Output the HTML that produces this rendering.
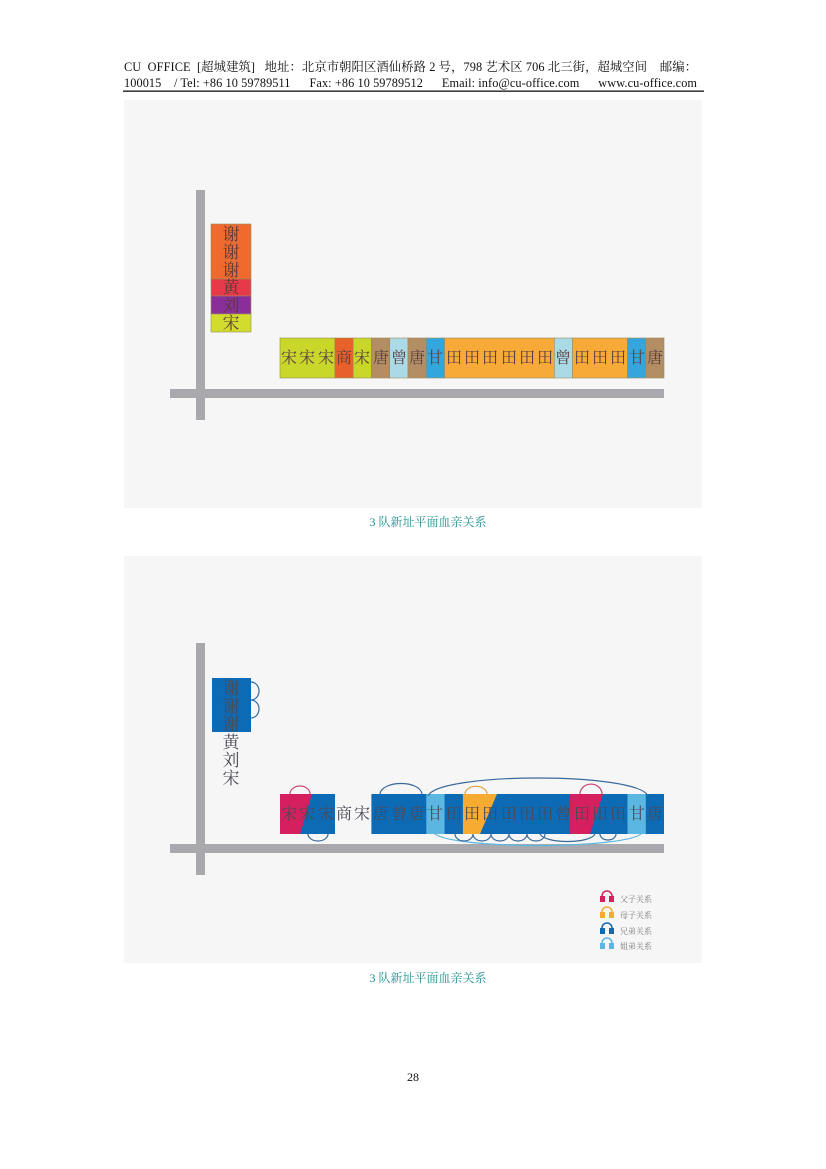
<!DOCTYPE html>
<html><head><meta charset="utf-8"><style>
body{margin:0;background:#fff;width:826px;height:1169px;overflow:hidden}
svg{display:block}
</style></head><body>
<svg width="826" height="1169" xmlns="http://www.w3.org/2000/svg" font-family="Liberation Serif, Noto Serif CJK SC, serif">
<text x="124" y="71" font-size="12.3" fill="#111" style="white-space:pre" textLength="573" lengthAdjust="spacing">CU  OFFICE  [超城建筑]   地址：北京市朝阳区酒仙桥路 2 号，798 艺术区 706 北三街，超城空间    邮编：</text>
<text x="124" y="87" font-size="12.3" fill="#111" style="white-space:pre" textLength="573" lengthAdjust="spacing">100015    / Tel: +86 10 59789511      Fax: +86 10 59789512      Email: info@cu-office.com      www.cu-office.com</text>
<rect x="123" y="90.5" width="581" height="1.3" fill="#111"/>

<!-- panel 1 -->
<rect x="124" y="100" width="578" height="408" fill="#f6f6f6"/>
<rect x="196" y="190" width="9" height="230" fill="#a9a9ad"/>
<rect x="170" y="389" width="494" height="9" fill="#a9a9ad"/>
<g stroke="#9a8a5a" stroke-width="0.6">
<rect x="211" y="224" width="40" height="55" fill="#ef6a2c"/>
<rect x="211" y="279" width="40" height="17" fill="#e63a4a"/>
<rect x="211" y="296" width="40" height="18" fill="#8a2f9a"/>
<rect x="211" y="314" width="40" height="18" fill="#d2dc2c"/>
</g>
<g font-size="17" fill="#5a3a3a" text-anchor="middle">
<text x="231" y="240">谢</text><text x="231" y="258">谢</text><text x="231" y="276">谢</text>
<text x="231" y="293">黄</text><text x="231" y="311">刘</text><text x="231" y="329">宋</text>
</g>
<g stroke="#9a8a5a" stroke-width="0.6">
<rect x="280" y="338" width="54.9" height="40" fill="#c9d62a"/>
<rect x="334.9" y="338" width="18.3" height="40" fill="#e8612a"/>
<rect x="353.2" y="338" width="18.2" height="40" fill="#c9d62a"/>
<rect x="371.4" y="338" width="18.3" height="40" fill="#b38d63"/>
<rect x="389.7" y="338" width="18.3" height="40" fill="#abd9e6"/>
<rect x="408" y="338" width="18.3" height="40" fill="#b38d63"/>
<rect x="426.3" y="338" width="18.3" height="40" fill="#33a6dd"/>
<rect x="444.6" y="338" width="109.7" height="40" fill="#f8aa38"/>
<rect x="554.3" y="338" width="18.3" height="40" fill="#abd9e6"/>
<rect x="572.6" y="338" width="54.9" height="40" fill="#f8aa38"/>
<rect x="627.5" y="338" width="18.3" height="40" fill="#33a6dd"/>
<rect x="645.8" y="338" width="18.2" height="40" fill="#b38d63"/>
</g>
<g font-size="16" fill="#5a4040" text-anchor="middle">
<text x="289" y="363">宋</text><text x="307" y="363">宋</text><text x="326" y="363">宋</text><text x="344" y="363">商</text><text x="362" y="363">宋</text><text x="381" y="363">唐</text><text x="399" y="363">曾</text><text x="417" y="363">唐</text><text x="435" y="363">甘</text><text x="454" y="363">田</text><text x="472" y="363">田</text><text x="490" y="363">田</text><text x="509" y="363">田</text><text x="527" y="363">田</text><text x="545" y="363">田</text><text x="563" y="363">曾</text><text x="582" y="363">田</text><text x="600" y="363">田</text><text x="618" y="363">田</text><text x="637" y="363">甘</text><text x="655" y="363">唐</text>
</g>
<text x="428" y="526" font-size="12" fill="#1f8f8f" text-anchor="middle">3 队新址平面血亲关系</text>

<!-- panel 2 -->
<rect x="124" y="556" width="578" height="407" fill="#f6f6f6"/>
<rect x="196" y="643" width="9" height="232" fill="#a9a9ad"/>
<rect x="170" y="844" width="494" height="9" fill="#a9a9ad"/>
<rect x="212" y="678" width="39" height="54" fill="#0d6ab5"/>
<g fill="none" stroke="#3a6a9a" stroke-width="1.2">
<path d="M251 682 a8 9 0 0 1 0 18 a8 9 0 0 1 0 18"/>
</g>
<rect x="280" y="794" width="55" height="40" fill="#0d6ab5"/>
<polygon points="280,794 312,794 300,834 280,834" fill="#d61f5e"/>
<rect x="371.4" y="794" width="292.6" height="40" fill="#0d6ab5"/>
<rect x="426.3" y="794" width="18.3" height="40" fill="#5cb6e2"/>
<rect x="627.5" y="794" width="18.3" height="40" fill="#5cb6e2"/>
<polygon points="462.9,794 497,794 480,834 462.9,834" fill="#f7ab30"/>
<polygon points="570,794 603,794 590,834 570,834" fill="#d61f5e"/>
<g fill="none" stroke-width="1.2">
<path d="M290 794 a10 8 0 0 1 20 0" stroke="#c94a7a"/>
<path d="M308 834 a10 7 0 0 0 20 0" stroke="#3a6a9a"/>
<path d="M380 794 c2 -14 40 -14 42 0" stroke="#3a6a9a"/>
<path d="M428 796 c10 -24 210 -24 220 0" stroke="#3a6a9a"/>
<path d="M465 794 a10 7 0 0 1 22 0" stroke="#d9a040"/>
<path d="M580 794 a10 9 0 0 1 22 0" stroke="#c94a7a"/>
<path d="M433 832 c10 18 200 18 210 0" stroke="#5cb6e2"/>
<path d="M455 834 a9 7 0 0 0 18 0 a9 7 0 0 0 18 0 a9 7 0 0 0 18 0 a9 7 0 0 0 18 0 a9 7 0 0 0 18 0" stroke="#3a6a9a"/>
<path d="M540 834 c5 10 50 10 55 0" stroke="#3a6a9a"/>
<path d="M600 834 a8 6 0 0 0 16 0" stroke="#3a6a9a"/>
</g>
<g font-size="17" fill="#4a4a55" text-anchor="middle">
<text x="231" y="694">谢</text><text x="231" y="712">谢</text><text x="231" y="730">谢</text>
<text x="231" y="748">黄</text><text x="231" y="766">刘</text><text x="231" y="784">宋</text>
</g>
<g font-size="16" fill="#4a4a55" text-anchor="middle">
<text x="289" y="819">宋</text><text x="307" y="819">宋</text><text x="326" y="819">宋</text><text x="344" y="819">商</text><text x="362" y="819">宋</text><text x="381" y="819">唐</text><text x="399" y="819">曾</text><text x="417" y="819">唐</text><text x="435" y="819">甘</text><text x="454" y="819">田</text><text x="472" y="819">田</text><text x="490" y="819">田</text><text x="509" y="819">田</text><text x="527" y="819">田</text><text x="545" y="819">田</text><text x="563" y="819">曾</text><text x="582" y="819">田</text><text x="600" y="819">田</text><text x="618" y="819">田</text><text x="637" y="819">甘</text><text x="655" y="819">唐</text>
</g>
<!-- legend -->
<g>
<rect x="600" y="896" width="5" height="6" fill="#d61f5e"/><rect x="609" y="896" width="5" height="6" fill="#d61f5e"/><path d="M602 896 a5 5 0 0 1 10 0" fill="none" stroke="#d61f5e" stroke-width="1.5"/>
<rect x="600" y="912" width="5" height="6" fill="#f7ab30"/><rect x="609" y="912" width="5" height="6" fill="#f7ab30"/><path d="M602 912 a5 5 0 0 1 10 0" fill="none" stroke="#f7ab30" stroke-width="1.5"/>
<rect x="600" y="928" width="5" height="6" fill="#0d6ab5"/><rect x="609" y="928" width="5" height="6" fill="#0d6ab5"/><path d="M602 928 a5 5 0 0 1 10 0" fill="none" stroke="#0d6ab5" stroke-width="1.5"/>
<rect x="600" y="943" width="5" height="6" fill="#5cb6e2"/><rect x="609" y="943" width="5" height="6" fill="#5cb6e2"/><path d="M602 943 a5 5 0 0 1 10 0" fill="none" stroke="#5cb6e2" stroke-width="1.5"/>
<g font-size="8" fill="#777">
<text x="620" y="902">父子关系</text><text x="620" y="918">母子关系</text><text x="620" y="934">兄弟关系</text><text x="620" y="949">姐弟关系</text>
</g>
</g>
<text x="428" y="982" font-size="12" fill="#1f8f8f" text-anchor="middle">3 队新址平面血亲关系</text>
<text x="413" y="1081" font-size="12" fill="#111" text-anchor="middle">28</text>
</svg>
</body></html>
